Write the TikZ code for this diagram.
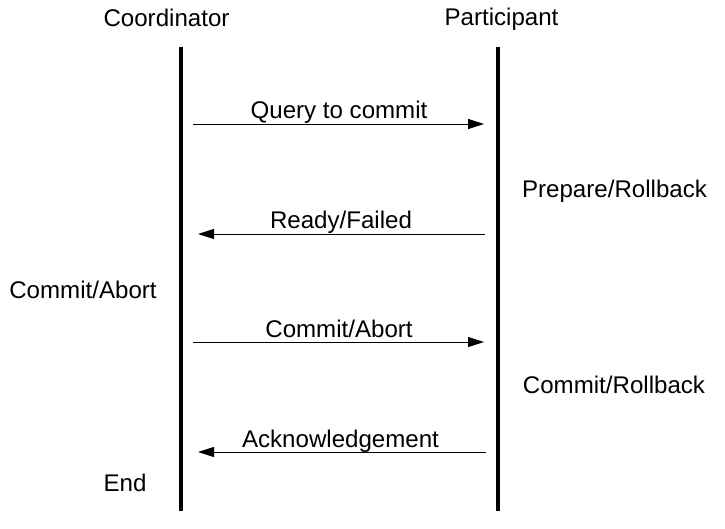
\documentclass[tikz,border=0pt]{standalone}
\usepackage{fontspec}
\setmainfont{Liberation Sans}
\usetikzlibrary{arrows.meta}
\begin{document}
\begin{tikzpicture}[x=1pt,y=-1pt,
  lbl/.style={anchor=base,inner sep=0pt,font=\fontsize{24.1}{28}\selectfont},
  lifeline/.style={line width=4pt},
  msg/.style={line width=1pt,-{Triangle[length=16pt,width=10pt]}}]
\useasboundingbox (0,0) rectangle (725,528);
% headers
\node[lbl] (coord) at (166.5,26) {Coordinator};
\node[lbl] (part) at (501.5,25) {Participant};
% lifelines
\coordinate (ct) at (180.5,47);
\coordinate (cb) at (180.5,511);
\coordinate (pt) at (497.5,47);
\coordinate (pb) at (497.5,511);
\draw[lifeline] (ct) -- (cb);
\draw[lifeline] (pt) -- (pb);
% messages
\coordinate (m1s) at (193,124);
\coordinate (m1e) at (484,124);
\draw[msg] (m1s) -- (m1e);
\node[lbl] (l1) at (339,118) {Query to commit};
\coordinate (m2s) at (485,234);
\coordinate (m2e) at (198,234);
\draw[msg] (m2s) -- (m2e);
\node[lbl] (l2) at (341,228) {Ready/Failed};
\coordinate (m3s) at (193,342);
\coordinate (m3e) at (484,342);
\draw[msg] (m3s) -- (m3e);
\node[lbl] (l3) at (339,337) {Commit/Abort};
\coordinate (m4s) at (486,452);
\coordinate (m4e) at (198,452);
\draw[msg] (m4s) -- (m4e);
\node[lbl] (l4) at (340.5,447) {Acknowledgement};
% state labels
\node[lbl] (s1) at (614.5,197) {Prepare/Rollback};
\node[lbl] (s2) at (83,298) {Commit/Abort};
\node[lbl] (s3) at (614,393) {Commit/Rollback};
\node[lbl] (s4) at (125,491) {End};
\end{tikzpicture}
\end{document}
